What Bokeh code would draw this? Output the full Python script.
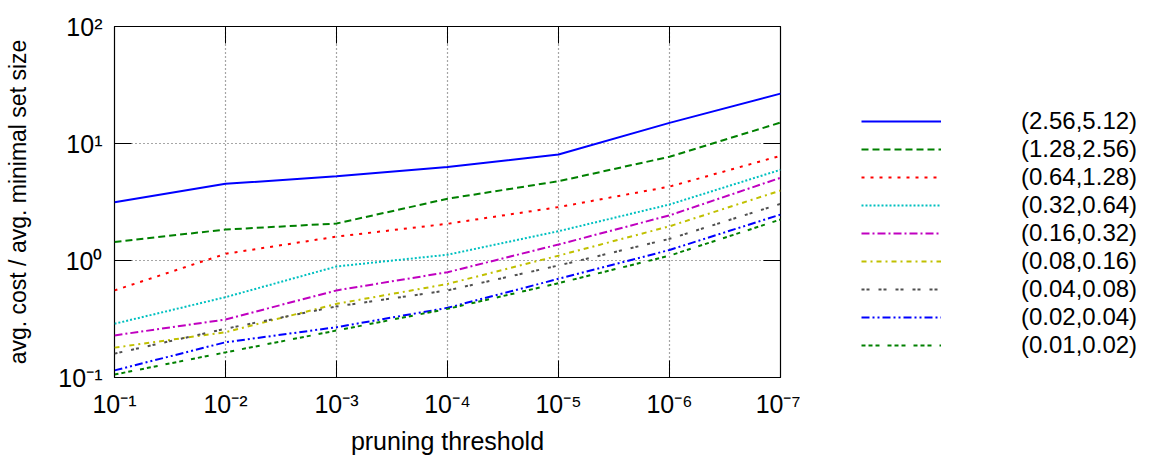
from bokeh.plotting import figure
from bokeh.layouts import row
from bokeh.models import (Range1d, FixedTicker, LogAxis, Legend, LegendItem,
                          CustomJSTickFormatter)
from bokeh.embed import file_html
from bokeh.resources import INLINE

thresholds = [1e-1, 1e-2, 1e-3, 1e-4, 1e-5, 1e-6, 1e-7]

labels = ["(2.56,5.12)", "(1.28,2.56)", "(0.64,1.28)", "(0.32,0.64)",
          "(0.16,0.32)", "(0.08,0.16)", "(0.04,0.08)", "(0.02,0.04)",
          "(0.01,0.02)"]

s_256_512 = [3.15, 4.52, 5.25, 6.3, 8.05, 15.0, 26.7]
s_128_256 = [1.44, 1.84, 2.07, 3.37, 4.76, 7.7, 15.1]
s_064_128 = [0.555, 1.14, 1.60, 2.06, 2.86, 4.28, 7.85]
s_032_064 = [0.288, 0.486, 0.889, 1.12, 1.78, 3.01, 5.96]
s_016_032 = [0.229, 0.313, 0.555, 0.794, 1.37, 2.43, 5.09]
s_008_016 = [0.180, 0.244, 0.426, 0.63, 1.10, 1.96, 3.96]
s_004_008 = [0.160, 0.261, 0.405, 0.555, 0.906, 1.53, 3.05]
s_002_004 = [0.115, 0.200, 0.269, 0.394, 0.697, 1.23, 2.47]
s_001_002 = [0.106, 0.164, 0.252, 0.386, 0.64, 1.10, 2.24]

series = [s_256_512, s_128_256, s_064_128, s_032_064, s_016_032,
          s_008_016, s_004_008, s_002_004, s_001_002]

y_ticks = [0.1, 1, 10, 100]

colors = ["#0000ff", "#008000", "#ff0000", "#00c0c0", "#c000c0",
          "#c0c000", "#505050", "#0000ff", "#008000"]
dashes = ["solid", "7 4", "3 6", "2 2", "8 3 2 3", "5 4 2 4",
          "3 2 3 9", "8 3 2 3 2 3", "4 3 4 3 4 8"]

FONT = "Liberation Sans"

p = figure(width=800, height=460, x_axis_type="log", y_axis_type="log",
           x_range=Range1d(1e-1, 1e-7), y_range=Range1d(0.1, 100),
           output_backend="svg", toolbar_location=None,
           min_border_left=114, min_border_right=20,
           min_border_top=26, min_border_bottom=83)

fmt = CustomJSTickFormatter(code="""
const sup = {'-':'\u207b','0':'\u2070','1':'\u00b9','2':'\u00b2','3':'\u00b3',
             '4':'\u2074','5':'\u2075','6':'\u2076','7':'\u2077','8':'\u2078','9':'\u2079'};
const e = Math.round(Math.log10(tick));
return '10' + String(e).split('').map(c => sup[c]).join('');
""")

for ax, ticks in ((p.xaxis[0], thresholds), (p.yaxis[0], y_ticks)):
    ax.ticker = FixedTicker(ticks=ticks)
    ax.formatter = fmt
    ax.major_label_text_font = FONT
    ax.major_label_text_font_size = "25px"
    ax.major_label_text_color = "black"
    ax.axis_line_color = None
    ax.major_tick_in = 17
    ax.major_tick_out = 0
    ax.minor_tick_in = 0
    ax.minor_tick_out = 0
    ax.major_tick_line_color = "black"
    ax.axis_label_text_font = FONT
    ax.axis_label_text_font_style = "normal"
    ax.axis_label_text_color = "black"

p.xaxis[0].axis_label = "pruning threshold"
p.yaxis[0].axis_label = "avg. cost / avg. minimal set size"
p.xaxis[0].axis_label_text_font_size = "25px"
p.yaxis[0].axis_label_text_font_size = "23px"
p.xaxis[0].major_label_standoff = 12
p.xaxis[0].axis_label_standoff = 6
p.yaxis[0].major_label_standoff = 12
p.yaxis[0].axis_label_standoff = 24

for loc, ticks in (("above", thresholds), ("right", y_ticks)):
    ax = LogAxis(ticker=FixedTicker(ticks=ticks), axis_line_color=None,
                 major_tick_in=17, major_tick_out=0, minor_tick_in=0,
                 minor_tick_out=0, major_label_text_color=None,
                 major_label_text_font_size="1px", major_label_standoff=0)
    p.add_layout(ax, loc)

p.xgrid.ticker = FixedTicker(ticks=thresholds)
p.ygrid.ticker = FixedTicker(ticks=y_ticks)
for g in (p.xgrid[0], p.ygrid[0]):
    g.grid_line_color = "black"
    g.grid_line_alpha = 0.7
    g.grid_line_dash = "1 3"
    g.grid_line_width = 1.2

p.outline_line_color = "black"
p.outline_line_width = 1.2
p.background_fill_color = "white"
p.border_fill_color = "white"

for ys, c, d in zip(series, colors, dashes):
    p.line(thresholds, ys, line_color=c, line_width=2, line_dash=d)

# legend panel: same series as legend keys, kept outside its visible range
pl = figure(width=350, height=460, x_axis_type="log", y_axis_type="log",
            x_range=Range1d(1e-1, 1e-7), y_range=Range1d(1e3, 1e4),
            output_backend="svg", toolbar_location=None,
            x_axis_location=None, y_axis_location=None,
            min_border_left=0, min_border_right=0, min_border_top=0,
            min_border_bottom=0)
pl.outline_line_color = None
pl.xgrid.visible = False
pl.ygrid.visible = False

items = []
for lab, ys, c, d in zip(labels, series, colors, dashes):
    r = pl.line(thresholds, ys, line_color=c, line_width=2, line_dash=d)
    items.append(LegendItem(label=lab, renderers=[r]))

legend = Legend(items=items, location=(61, 18), glyph_width=80,
                glyph_height=28, label_height=28, label_standoff=80,
                spacing=0, padding=0, margin=0, border_line_color=None,
                background_fill_alpha=0, label_text_font=FONT,
                label_text_font_size="24px", label_text_color="black")
pl.add_layout(legend)

open("out.html", "w").write(file_html(row(p, pl), INLINE))
